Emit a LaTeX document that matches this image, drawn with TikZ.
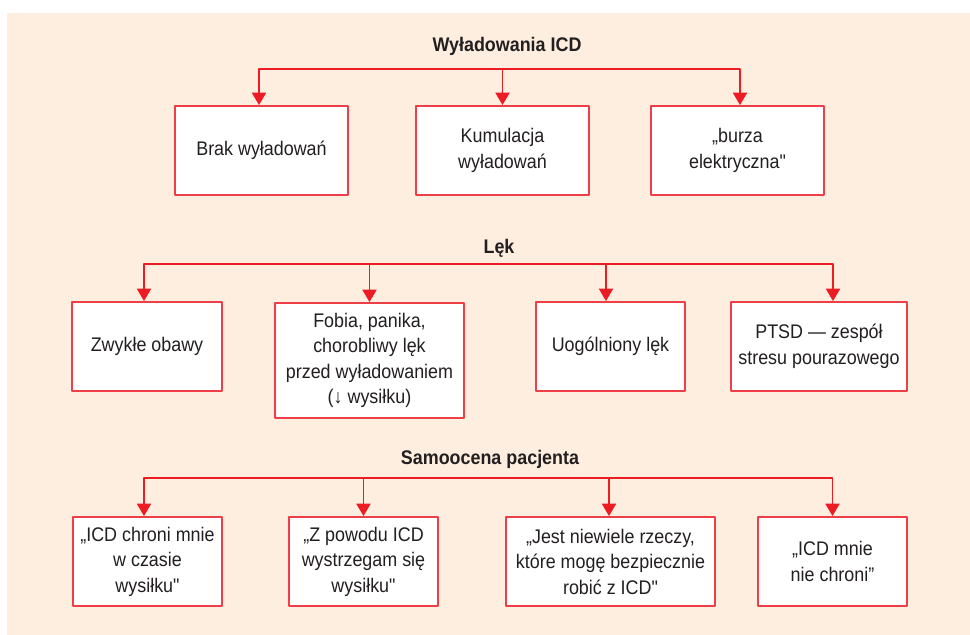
\documentclass[tikz,border=0pt]{standalone}
\usepackage{fontspec}
\setmainfont{Liberation Sans}[FakeStretch=0.91, Ligatures=TeXOff]
\usetikzlibrary{arrows.meta}
\definecolor{tlo}{RGB}{253,238,224}
\definecolor{czerw}{RGB}{237,28,36}
\definecolor{ramka}{RGB}{238,62,72}
\definecolor{tekst}{RGB}{35,31,32}
\begin{document}
\begin{tikzpicture}[x=0.02cm, y=-0.02cm, line join=round,
	font=\fontsize{11.2}{14.5}\selectfont, text=tekst,
	>={Triangle[width=8pt,length=7pt]},
	pole/.style={draw=ramka, line width=1.1pt, fill=white, align=center, inner sep=0pt, minimum height=1.78cm},
	tytul/.style={font=\fontsize{11.2}{14.5}\selectfont\bfseries},
	szyna/.style={draw=czerw, line width=0.9pt, ->}]
	\useasboundingbox (0,0) rectangle (970,635);
	\fill[tlo] (7,13) rectangle (970,635);
	% wyladowania
	\path
	(507,46) node[tytul] (tW) {Wyładowania ICD}
	(261.5,150.5) node[pole, minimum width=3.46cm] (w1) {Brak wyładowań}
	(502.5,150.5) node[pole, minimum width=3.46cm] (w2) {Kumulacja\\wyładowań}
	(737.5,150.5) node[pole, minimum width=3.46cm] (w3) {„burza\\elektryczna"}
	;
	% lek
	\path
	(499,248) node[tytul] (tL) {Lęk}
	(147,346.5) node[pole, minimum width=3cm] (l1) {Zwykłe obawy}
	(369.5,360.5) node[pole, minimum width=3.78cm, minimum height=2.3cm] (l2) {Fobia, panika,\\chorobliwy lęk\\przed wyładowaniem\\(↓ wysiłku)}
	(610.5,346.5) node[pole, minimum width=2.98cm] (l3) {Uogólniony lęk}
	(819,346.5) node[pole, minimum width=3.52cm] (l4) {PTSD — zespół\\stresu pourazowego}
	;
	% samoocena
	\path
	(490,459) node[tytul] (tS) {Samoocena pacjenta}
	(147.5,561.5) node[pole, minimum width=2.98cm] (s1) {„ICD chroni mnie\\w czasie\\wysiłku"}
	(363.5,561.5) node[pole, minimum width=2.98cm] (s2) {„Z powodu ICD\\wystrzegam się\\wysiłku"}
	(610.5,561.5) node[pole, minimum width=4.18cm] (s3) {„Jest niewiele rzeczy,\\które mogę bezpiecznie\\robić z ICD"}
	(832.5,561.5) node[pole, minimum width=2.98cm] (s4) {„ICD mnie\\nie chroni”}
	;
	\coordinate (sW) at (500,69);
	\coordinate (sL) at (490,264);
	\coordinate (sS) at (490,478);
	\draw[szyna] (sW) -| ([xshift=-0.05cm]w1.north);
	\draw[szyna] (sW) -| (w2.north);
	\draw[szyna] (sW) -| ([xshift=0.05cm]w3.north);
	\draw[szyna] (sL) -| ([xshift=-0.06cm]l1.north);
	\draw[szyna] (sL) -| (l2.north);
	\draw[szyna] (sL) -| ([xshift=-0.09cm]l3.north);
	\draw[szyna] (sL) -| ([xshift=0.28cm]l4.north);
	\draw[szyna] (sS) -| ([xshift=-0.07cm]s1.north);
	\draw[szyna] (sS) -| (s2.north);
	\draw[szyna] (sS) -| ([xshift=-0.03cm]s3.north);
	\draw[szyna] (sS) -| (s4.north);
\end{tikzpicture}
\end{document}
